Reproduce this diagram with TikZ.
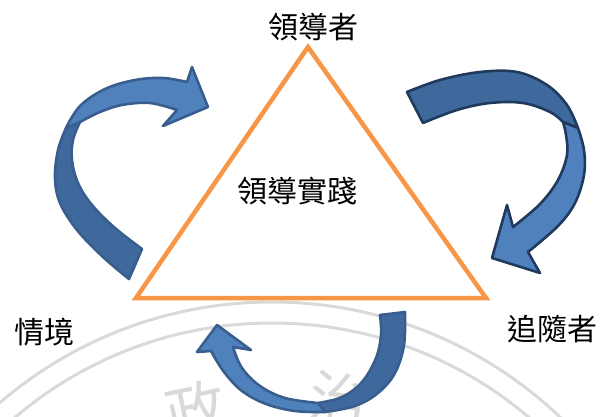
\documentclass[tikz,border=0pt]{standalone}
\usepackage{fontspec}
\newfontfamily\cjk{Noto Sans CJK TC}
\definecolor{triorange}{HTML}{F79646}
\definecolor{arrlight}{HTML}{4F81BD}
\definecolor{arrdark}{HTML}{3F689C}
\definecolor{arrline}{HTML}{395E8E}
\definecolor{arrlineB}{HTML}{203A5E}
\definecolor{wmgray}{HTML}{D9D9D9}
\begin{document}
\begin{tikzpicture}[x=1pt,y=-1pt,
  lbl/.style={font=\cjk\fontsize{30}{30}\selectfont, text=black, inner sep=0pt},
  wmtext/.style={font=\cjk\fontsize{60}{60}\selectfont, text=wmgray, inner sep=0pt},
  wmline/.style={draw=wmgray, line width=3pt},
  tri/.style={draw=triorange, line width=4.5pt, line join=miter},
  front/.style={fill=arrlight, draw=arrline, line width=2.6pt, line join=round},
  back/.style={fill=arrdark, draw=arrline, line width=2.6pt, line join=round},
  frontB/.style={fill=arrlight, draw=arrlineB, line width=2.6pt, line join=round},
  backB/.style={fill=arrdark, draw=arrlineB, line width=2.6pt, line join=round},
  sm/.style={smooth, tension=0.6}]
\useasboundingbox (0,0) rectangle (603,416);
% watermark
\begin{scope}
  \clip (0,0) rectangle (603,416);
  \coordinate (wmc) at (272,720);
  \draw[wmline] (wmc) circle[radius=418pt];
  \draw[wmline] (wmc) circle[radius=397pt];
  \node[wmtext, rotate=12] (wm1) at (196,410) {政};
  \node[wmtext, rotate=-10] (wm2) at (339,400) {治};
\end{scope}
% triangle
\coordinate (A) at (308,47);
\coordinate (B) at (136,298);
\coordinate (C) at (486,298);
\draw[tri] (A) -- (B) -- (C) -- cycle;
% left arrow
\filldraw[back] plot[sm] coordinates {(129,279) (103,257) (77,230) (60,203) (55,178) (58,150) (66,128)}
  -- (80,122) -- plot[sm] coordinates {(80,122) (73,140) (72,160) (78,183) (92,205) (115,228) (142,249)} -- cycle;
\filldraw[front] plot[sm] coordinates {(66,128) (80,106) (105,89) (135,80) (163,78) (187,82)}
  -- (192,67) -- (208,107) -- (163,126) -- (177,110)
  -- plot[sm] coordinates {(177,110) (150,103) (122,105) (100,112) (80,122)} -- cycle;
% right arrow
\filldraw[backB] plot[sm] coordinates {(407,92) (440,80) (480,72) (517,72) (547,85) (567,105) (578,128)}
  -- (563,122) -- plot[sm] coordinates {(563,122) (550,112) (523,103) (490,103) (457,110) (423,123)} -- cycle;
\filldraw[frontB] plot[sm] coordinates {(578,128) (584,150) (584,175) (575,203) (558,226) (528,252)}
  -- (540,273) -- (492,258) -- (507,205) -- (513,227)
  -- plot[sm] coordinates {(513,227) (540,204) (558,180) (567,155) (566,135) (563,122)} -- cycle;
% bottom arrow
\filldraw[back] plot[sm] coordinates {(405,312) (404,345) (395,373) (378,393) (355,406) (325,412)}
  -- (318,403) -- plot[sm] coordinates {(318,403) (342,397) (362,382) (376,358) (381,335) (380,315)} -- cycle;
\filldraw[front] plot[sm] coordinates {(325,412) (295,411) (266,404) (242,391) (224,372) (211,351)}
  -- (197,352) -- (217,325) -- (251,350) -- (233,347)
  -- plot[sm] coordinates {(233,347) (242,368) (260,386) (285,398) (318,403)} -- cycle;
% labels
\node[lbl] (leader) at (313,27) {領導者};
\node[lbl] (situation) at (44,332) {情境};
\node[lbl] (follower) at (552,329) {追隨者};
\node[lbl] (practice) at (297,191) {領導實踐};
\end{tikzpicture}
\end{document}
